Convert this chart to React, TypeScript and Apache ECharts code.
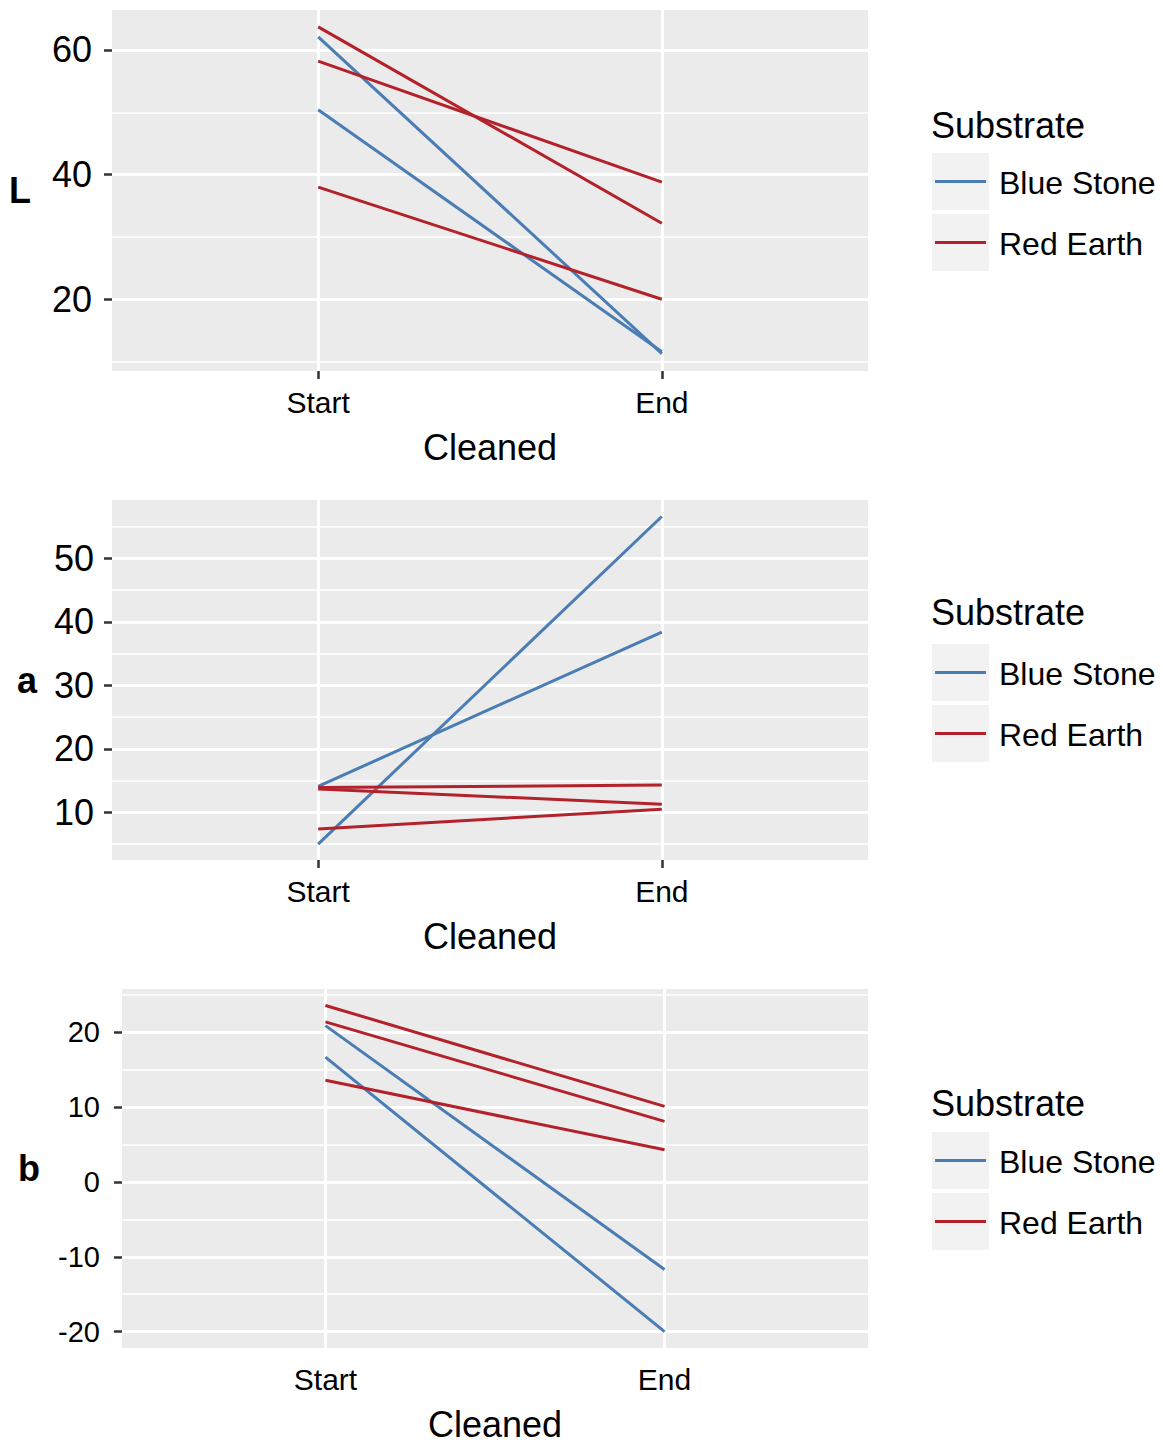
import React, { useEffect, useRef } from "react";
import * as echarts from "echarts";

// Categories and groups
const cleanedLevels = ["Start", "End"];
const substrates = ["Blue Stone", "Red Earth"];
const substrateColors = ["#4a7db3", "#b3222b"];

// Paired measurements (Start, End) for each sample, per colour coordinate
const lBlue = [
  [62.1, 11.3],
  [50.4, 11.6],
];
const lRed = [
  [63.7, 32.2],
  [58.2, 38.8],
  [38.0, 20.0],
];
const aBlue = [
  [5.0, 56.6],
  [14.1, 38.4],
];
const aRed = [
  [13.9, 14.3],
  [13.7, 11.3],
  [7.4, 10.5],
];
const bBlue = [
  [20.9, -11.7],
  [16.7, -20.0],
];
const bRed = [
  [23.6, 10.1],
  [21.4, 8.1],
  [13.6, 4.3],
];

// Axis breaks
const lMajor = [20, 40, 60];
const lMinor = [10, 30, 50];
const aMajor = [10, 20, 30, 40, 50];
const aMinor = [5, 15, 25, 35, 45, 55];
const bMajor = [-20, -10, 0, 10, 20];
const bMinor = [-15, -5, 5, 15, 25];

const FONT = "'Liberation Sans', Arial, Helvetica, sans-serif";

const panels = [
  {
    name: "L", blue: lBlue, red: lRed, major: lMajor, minor: lMinor,
    min: 8.5, max: 66.4,
    grid: { left: 112, top: 10, width: 756, height: 361 },
    tickFont: 36, labelMargin: 20, nameGap: 81, titleY: 125, legendTop: 153,
  },
  {
    name: "a", blue: aBlue, red: aRed, major: aMajor, minor: aMinor,
    min: 2.5, max: 59.2,
    grid: { left: 112, top: 500, width: 756, height: 360 },
    tickFont: 36, labelMargin: 18, nameGap: 75, titleY: 612, legendTop: 644,
  },
  {
    name: "b", blue: bBlue, red: bRed, major: bMajor, minor: bMinor,
    min: -22.2, max: 25.8,
    grid: { left: 122, top: 989, width: 746, height: 361 },
    tickFont: 29, labelMargin: 22, nameGap: 82, titleY: 1103, legendTop: 1132,
  },
];

function buildOption() {
  const grids: any[] = [];
  const xAxes: any[] = [];
  const yAxes: any[] = [];
  const series: any[] = [];
  const graphics: any[] = [];

  panels.forEach((p, i) => {
    grids.push({
      ...p.grid,
      show: true,
      backgroundColor: "#EBEBEB",
      borderWidth: 0,
    });

    const catPositions = cleanedLevels.map((_, k) => k + 1);

    xAxes.push({
      gridIndex: i,
      type: "value",
      min: 0.4,
      max: 2.6,
      axisLine: { show: false },
      splitLine: { show: false },
      axisTick: {
        show: true,
        customValues: catPositions,
        length: 8,
        lineStyle: { color: "#333", width: 2.5 },
      },
      axisLabel: {
        customValues: catPositions,
        formatter: (v: number) => cleanedLevels[Math.round(v) - 1] ?? "",
        fontSize: 30,
        fontFamily: FONT,
        color: "#000",
        margin: 16,
      },
      name: "Cleaned",
      nameLocation: "middle",
      nameGap: 58,
      nameTextStyle: { fontSize: 36, fontFamily: FONT, color: "#000" },
    });

    yAxes.push({
      gridIndex: i,
      type: "value",
      min: p.min,
      max: p.max,
      axisLine: { show: false },
      splitLine: { show: false },
      axisTick: {
        show: true,
        customValues: p.major,
        length: 8,
        lineStyle: { color: "#333", width: 2.5 },
      },
      axisLabel: {
        customValues: p.major,
        fontSize: p.tickFont,
        fontFamily: FONT,
        color: "#000",
        margin: p.labelMargin,
      },
      name: p.name,
      nameLocation: "middle",
      nameRotate: 0,
      nameGap: p.nameGap,
      nameTextStyle: {
        fontSize: 36,
        fontWeight: "bold",
        fontFamily: FONT,
        color: "#000",
      },
    });

    // White panel grid: major and minor breaks on y, category breaks on x
    series.push({
      type: "line",
      xAxisIndex: i,
      yAxisIndex: i,
      data: [],
      silent: true,
      z: 1,
      markLine: {
        z: 1,
        silent: true,
        symbol: "none",
        label: { show: false },
        animation: false,
        data: [
          ...p.major.map((v) => ({
            yAxis: v,
            lineStyle: { color: "#fff", width: 3, type: "solid" },
          })),
          ...p.minor.map((v) => ({
            yAxis: v,
            lineStyle: { color: "#fff", width: 1.6, type: "solid" },
          })),
          ...catPositions.map((v) => ({
            xAxis: v,
            lineStyle: { color: "#fff", width: 3, type: "solid" },
          })),
        ],
      },
    });

    const groups = [p.blue, p.red];
    groups.forEach((lines, g) => {
      lines.forEach((pair) => {
        series.push({
          type: "line",
          name: substrates[g],
          xAxisIndex: i,
          yAxisIndex: i,
          data: pair.map((v, k) => [k + 1, v]),
          symbol: "none",
          showSymbol: false,
          silent: true,
          z: 3,
          lineStyle: { color: substrateColors[g], width: 3 },
        });
      });
    });

    // Legend for the panel
    const top = p.legendTop;
    graphics.push({
      type: "text",
      x: 931,
      y: p.titleY,
      style: {
        text: "Substrate",
        fontSize: 36,
        fontFamily: FONT,
        fill: "#000",
        align: "left",
        verticalAlign: "middle",
      },
    });
    substrates.forEach((s, g) => {
      const ky = top + g * 61;
      graphics.push({
        type: "rect",
        shape: { x: 932, y: ky, width: 57, height: 57 },
        style: { fill: "#F2F2F2" },
      });
      graphics.push({
        type: "line",
        shape: { x1: 935, y1: ky + 28.5, x2: 986, y2: ky + 28.5 },
        style: { stroke: substrateColors[g], lineWidth: 3 },
      });
      graphics.push({
        type: "text",
        x: 999,
        y: ky + 30,
        style: {
          text: s,
          fontSize: 32,
          fontFamily: FONT,
          fill: "#000",
          align: "left",
          verticalAlign: "middle",
        },
      });
    });
  });

  return {
    animation: false,
    backgroundColor: "#fff",
    grid: grids,
    xAxis: xAxes,
    yAxis: yAxes,
    series,
    graphic: graphics,
  };
}

export default function App() {
  const ref = useRef<HTMLDivElement>(null);

  useEffect(() => {
    if (!ref.current) return;
    const chart = echarts.init(ref.current, null, { renderer: "svg" });
    chart.setOption(buildOption() as any);
    return () => chart.dispose();
  }, []);

  return (
    <div
      ref={ref}
      style={{ position: "absolute", left: 0, top: 0, width: 1163, height: 1443 }}
    />
  );
}
